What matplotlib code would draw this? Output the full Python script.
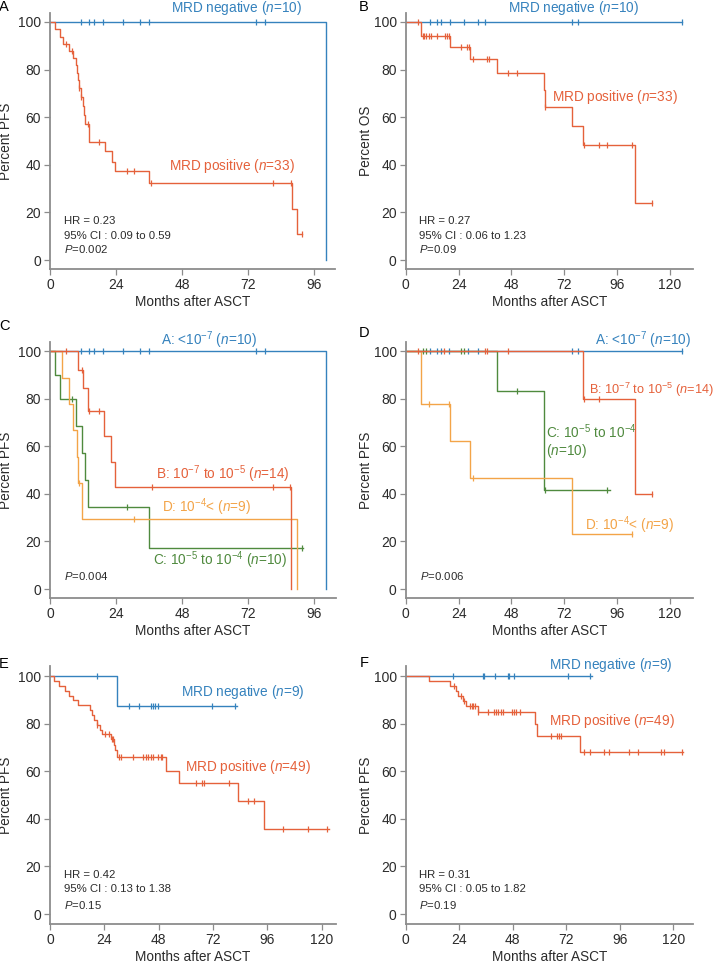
import numpy as np
import matplotlib
matplotlib.use('Agg')
import matplotlib.pyplot as plt

plt.rcParams['font.family'] = ['Liberation Sans', 'DejaVu Sans']
plt.rcParams['mathtext.fontset'] = 'custom'
plt.rcParams['mathtext.rm'] = 'Liberation Sans'
plt.rcParams['mathtext.it'] = 'Liberation Sans:italic'
plt.rcParams['mathtext.sf'] = 'Liberation Sans'

BLUE = '#3582bd'
RED = '#e5613b'
GREEN = '#4f8a3e'
YELLOW = '#f3a448'

# ---- data (months, percent) ----
# A: PFS by MRD status
a_neg_t = [100.2]
a_neg_s = [0]
a_neg_end = 100.2
a_neg_c = [11.2, 14.3, 16.1, 19.4, 26.7, 32.7, 36.1, 75.0, 78.3]
a_pos_t = [1.8, 3.6, 4.8, 7.0, 8.5, 9.4, 9.9, 10.2, 10.4, 11.2, 12.1, 12.5, 12.8,
           14.3, 20.0, 22.4, 23.6, 35.9, 87.9, 89.7]
a_pos_s = [97.0, 93.9, 90.9, 87.9, 84.8, 81.8, 78.7, 75.7, 72.4, 68.5, 64.8, 61.0, 57.2,
           49.6, 45.6, 41.3, 37.2, 32.3, 21.5, 10.8]
a_pos_end = 91.5
a_pos_c = [5.7, 7.9, 10.5, 11.3, 13.9, 17.8, 27.9, 30.5, 36.6, 81.2, 87.6, 91.5]

# B: OS by MRD status
b_neg_t = []
b_neg_s = []
b_neg_end = 125.3
b_neg_c = [11.0, 14.4, 16.0, 20.1, 26.6, 32.7, 36.2, 75.4, 78.1, 125.3]
b_pos_t = [7.1, 20.1, 29.2, 41.6, 63.0, 63.3, 75.7, 80.4, 104.3]
b_pos_s = [94.1, 89.7, 84.6, 78.5, 71.5, 64.4, 56.3, 48.2, 24.1]
b_pos_end = 111.8
b_pos_c = [5.8, 7.7, 8.5, 9.4, 10.6, 11.3, 14.1, 17.7, 18.9, 19.7, 25.0, 28.0, 28.8,
           30.4, 36.8, 37.7, 46.5, 50.4, 63.4, 81.0, 87.6, 91.6, 102.8, 111.8]

# C: PFS by MRD level
c_a_t = [100.2]
c_a_s = [0]
c_a_end = 100.2
c_a_c = [11.2, 14.3, 16.1, 19.4, 26.7, 32.7, 36.1, 75.0, 78.3]
c_b_t = [10.1, 12.1, 13.9, 19.8, 22.2, 23.6, 87.6]
c_b_s = [92.3, 84.6, 74.9, 64.2, 53.5, 42.8, 0]
c_b_end = 87.6
c_b_c = [5.8, 11.5, 14.3, 17.9, 37.0, 81.2, 87.4]
c_c_t = [1.9, 3.8, 9.5, 11.5, 12.7, 13.9, 36.0]
c_c_s = [90.0, 80.0, 68.6, 57.1, 45.7, 34.3, 17.1]
c_c_end = 92.0
c_c_c = [8.1, 27.9, 91.5]
c_d_t = [4.2, 7.0, 8.2, 9.7, 10.0, 11.8, 89.7]
c_d_s = [88.9, 77.8, 66.7, 55.6, 44.4, 29.6, 0]
c_d_end = 89.7
c_d_c = [10.4, 30.7]

# D: by MRD level (second cohort)
d_a_t = []
d_a_s = []
d_a_end = 125.3
d_a_c = [11.0, 14.3, 15.9, 19.8, 28.4, 32.7, 75.4, 78.1, 125.3]
d_b_t = [80.4, 104.3]
d_b_s = [80.0, 40.0]
d_b_end = 111.8
d_b_c = [5.7, 17.5, 36.0, 37.0, 46.6, 81.0, 87.6, 111.8]
d_c_t = [41.3, 63.0]
d_c_s = [83.3, 41.7]
d_c_end = 92.8
d_c_c = [8.0, 9.2, 25.0, 26.5, 50.4, 63.4, 91.6]
d_d_t = [7.1, 20.1, 29.1, 75.7]
d_d_s = [77.8, 62.2, 46.7, 23.3]
d_d_end = 102.8
d_d_c = [10.6, 19.8, 30.4, 102.8]

# E: PFS by MRD status (n=58)
e_neg_t = [29.5]
e_neg_s = [87.5]
e_neg_end = 82.8
e_neg_c = [20.6, 34.9, 39.5, 44.6, 45.7, 46.4, 47.9, 71.6, 81.9]
e_pos_t = [1.8, 4.0, 6.5, 8.5, 10.3, 12.3, 17.7, 18.7, 19.6, 20.8, 22.2, 23.0, 26.8,
           28.1, 28.6, 29.6, 51.1, 57.1, 82.9, 94.4]
e_pos_s = [98.0, 95.9, 93.9, 91.8, 89.8, 87.8, 85.7, 83.7, 81.6, 79.6, 77.5, 75.5, 73.4,
           71.2, 68.8, 65.9, 60.3, 55.3, 47.7, 35.8]
e_pos_end = 123.0
e_pos_c = [20.9, 24.3, 26.1, 27.2, 28.0, 30.6, 31.4, 36.5, 41.2, 42.3, 43.2, 44.5, 45.7,
           47.9, 48.9, 49.6, 64.5, 67.3, 68.0, 79.1, 87.6, 90.3, 102.7, 114.1, 122.5]

# F: OS by MRD status (n=58)
f_neg_t = []
f_neg_s = []
f_neg_end = 83.7
f_neg_c = [21.4, 34.5, 35.2, 40.0, 45.7, 46.4, 48.6, 72.8, 82.7]
f_pos_t = [10.4, 19.9, 22.4, 23.6, 25.5, 26.9, 32.3, 58.0, 59.0, 78.2]
f_pos_s = [98.0, 95.9, 93.8, 91.7, 89.5, 87.3, 84.9, 79.8, 74.8, 68.0]
f_pos_end = 124.5
f_pos_c = [21.8, 24.9, 26.2, 28.8, 29.6, 30.3, 31.1, 32.6, 37.1, 39.4, 40.4, 41.6, 42.6,
           43.8, 47.5, 48.6, 49.3, 51.3, 65.2, 67.7, 68.6, 69.8, 80.0, 82.7, 89.1, 91.3,
           100.1, 104.3, 114.3, 115.7, 123.9]

W, H = 720, 963
fig = plt.figure(figsize=(W / 100, H / 100), dpi=100)


def make_ax(left, top, right, bottom, xmax, ylo, yhi, xticks, ylabel, letter, lpos):
    ax = fig.add_axes([left / W, 1 - bottom / H, (right - left) / W, (bottom - top) / H])
    ax.set_xlim(0, xmax)
    ax.set_ylim(ylo, yhi)
    ax.set_xticks(xticks)
    ax.set_yticks([0, 20, 40, 60, 80, 100])
    for s in ['top', 'right']:
        ax.spines[s].set_visible(False)
    for s in ['left', 'bottom']:
        ax.spines[s].set_color('#8c8c8c')
        ax.spines[s].set_linewidth(1.3)
    ax.tick_params(direction='out', length=4, width=0.9, color='#8c8c8c',
                   labelsize=10, labelcolor='#2b2b2b', pad=2.5)
    ax.set_ylabel(ylabel, fontsize=9.8, color='#2b2b2b')
    ax.yaxis.set_label_coords(-(left - lpos) / (right - left), 0.5)
    ax.set_xlabel('Months after ASCT', fontsize=9.8, color='#2b2b2b')
    ax.xaxis.set_label_coords(0.5, -26 / (bottom - top))
    fig.text(4 / W if left < 100 else 364 / W, 1 - letter / H,
             'ABCDEF'[len(fig.axes) - 1], fontsize=10.5, va='center', ha='center')
    return ax


def km(ax, times, surv, end, cens, color):
    times = np.asarray(times, dtype=float)
    surv = np.asarray(surv, dtype=float)
    last = surv[-1] if len(surv) else 100.0
    t = np.r_[0, times, end]
    s = np.r_[100, surv, last]
    ax.step(t, s, where='post', color=color, lw=1.0, clip_on=False)
    idx = np.searchsorted(times, cens, side='right')
    cy = np.r_[100, surv][idx]
    ax.plot(cens, cy, ls='none', marker='|', ms=5, mew=0.9, color=color, clip_on=False)


def stats(ax, x, lines, ys):
    for txt, y in zip(lines, ys):
        ax.text(x, y, txt, fontsize=8.2, color='#2b2b2b', va='center', ha='left')


t96 = [0, 24, 48, 72, 96]
t120 = [0, 24, 48, 72, 96, 120]

# A
ax = make_ax(50, 13, 335, 269, 103.6, -3.78, 103.78, t96, 'Percent PFS', 7, 13)
km(ax, a_neg_t, a_neg_s, a_neg_end, a_neg_c, BLUE)
km(ax, a_pos_t, a_pos_s, a_pos_end, a_pos_c, RED)
ax.text(67.9, 105.7, r'MRD negative ($n$=10)', color=BLUE, fontsize=9.8, ha='center', va='center', clip_on=False)
ax.text(66, 39.4, r'MRD positive ($n$=33)', color=RED, fontsize=9.8, ha='center', va='center')
stats(ax, 5.1, ['HR = 0.23', '95% CI : 0.09 to 0.59', r'$P$=0.002'], [16.3, 10.1, 4.8])

# B
ax = make_ax(405.7, 13, 692.7, 269, 130.3, -3.78, 103.78, t120, 'Percent OS', 7, 373)
km(ax, b_neg_t, b_neg_s, b_neg_end, b_neg_c, BLUE)
km(ax, b_pos_t, b_pos_s, b_pos_end, b_pos_c, RED)
ax.text(76.1, 105.7, r'MRD negative ($n$=10)', color=BLUE, fontsize=9.8, ha='center', va='center', clip_on=False)
ax.text(95, 68.6, r'MRD positive ($n$=33)', color=RED, fontsize=9.8, ha='center', va='center')
stats(ax, 6.2, ['HR = 0.27', '95% CI : 0.06 to 1.23', r'$P$=0.09'], [16.3, 10.1, 4.8])

# C
ax = make_ax(50, 341.7, 336, 598.3, 104.0, -3.9, 104.0, t96, 'Percent PFS', 326, 13)
km(ax, c_a_t, c_a_s, c_a_end, c_a_c, BLUE)
km(ax, c_c_t, c_c_s, c_c_end, c_c_c, GREEN)
km(ax, c_d_t, c_d_s, c_d_end, c_d_c, YELLOW)
km(ax, c_b_t, c_b_s, c_b_end, c_b_c, RED)
ax.text(57.9, 104.8, r'A: <10$^{-7}$ ($n$=10)', color=BLUE, fontsize=9.8, ha='center', va='center', clip_on=False)
ax.text(63, 48.2, r'B: 10$^{-7}$ to 10$^{-5}$ ($n$=14)', color=RED, fontsize=9.8, ha='center', va='center')
ax.text(57, 34.3, r'D: 10$^{-4}$< ($n$=9)', color=YELLOW, fontsize=9.8, ha='center', va='center')
ax.text(61.8, 12.2, r'C: 10$^{-5}$ to 10$^{-4}$ ($n$=10)', color=GREEN, fontsize=9.8, ha='center', va='center')
stats(ax, 5.1, [r'$P$=0.004'], [5.6])

# D
ax = make_ax(405.7, 341.7, 692.7, 598.3, 130.3, -3.9, 104.0, t120, 'Percent PFS', 333, 373)
km(ax, d_a_t, d_a_s, d_a_end, d_a_c, BLUE)
km(ax, d_c_t, d_c_s, d_c_end, d_c_c, GREEN)
km(ax, d_d_t, d_d_s, d_d_end, d_d_c, YELLOW)
km(ax, d_b_t, d_b_s, d_b_end, d_b_c, RED)
ax.text(107.9, 104.8, r'A: <10$^{-7}$ ($n$=10)', color=BLUE, fontsize=9.8, ha='center', va='center', clip_on=False)
ax.text(83.2, 83.7, r'B: 10$^{-7}$ to 10$^{-5}$ ($n$=14)', color=RED, fontsize=9.2, ha='left', va='center', clip_on=False)
ax.text(63.6, 66.0, r'C: 10$^{-5}$ to 10$^{-4}$', color=GREEN, fontsize=9.8, ha='left', va='center')
ax.text(63.6, 58.2, r'($n$=10)', color=GREEN, fontsize=9.8, ha='left', va='center')
ax.text(81.4, 26.8, r'D: 10$^{-4}$< ($n$=9)', color=YELLOW, fontsize=9.8, ha='left', va='center')
stats(ax, 6.5, [r'$P$=0.006'], [5.6])

# E
ax = make_ax(50, 666, 336, 924, 126.3, -4.2, 104.3, t120, 'Percent PFS', 664, 13)
km(ax, e_neg_t, e_neg_s, e_neg_end, e_neg_c, BLUE)
km(ax, e_pos_t, e_pos_s, e_pos_end, e_pos_c, RED)
ax.text(85.1, 93.5, r'MRD negative ($n$=9)', color=BLUE, fontsize=9.8, ha='center', va='center')
ax.text(87.6, 61.7, r'MRD positive ($n$=49)', color=RED, fontsize=9.8, ha='center', va='center')
stats(ax, 6.2, ['HR = 0.42', '95% CI : 0.13 to 1.38', r'$P$=0.15'], [16.3, 10.4, 3.8])

# F
ax = make_ax(405.7, 666, 692.7, 924, 128.7, -4.2, 104.3, t120, 'Percent PFS', 663, 373)
km(ax, f_neg_t, f_neg_s, f_neg_end, f_neg_c, BLUE)
km(ax, f_pos_t, f_pos_s, f_pos_end, f_pos_c, RED)
ax.text(91.9, 104.8, r'MRD negative ($n$=9)', color=BLUE, fontsize=9.8, ha='center', va='center', clip_on=False)
ax.text(92.4, 81.2, r'MRD positive ($n$=49)', color=RED, fontsize=9.8, ha='center', va='center')
stats(ax, 6.1, ['HR = 0.31', '95% CI : 0.05 to 1.82', r'$P$=0.19'], [16.3, 10.4, 3.8])

fig.savefig('out.png', dpi=100)
